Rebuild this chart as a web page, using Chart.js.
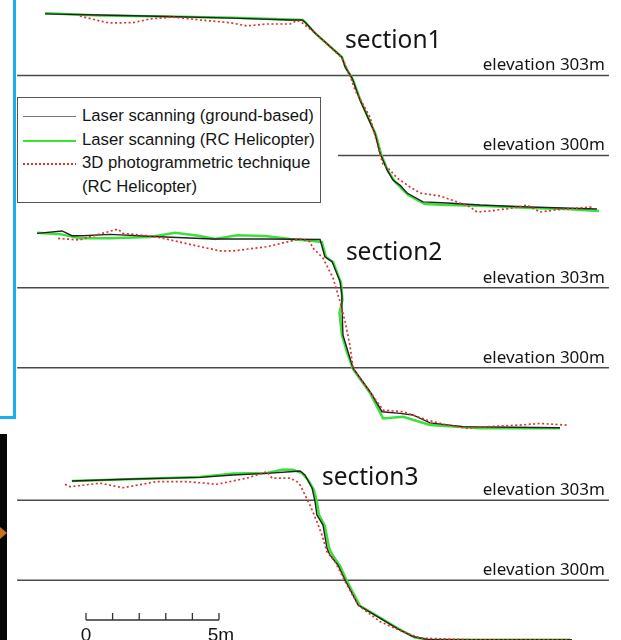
<!DOCTYPE html>
<html>
<head>
<meta charset="utf-8">
<script src="https://cdn.jsdelivr.net/npm/chart.js@4.4.1/dist/chart.umd.min.js"></script>
<style>
  html, body { margin: 0; padding: 0; background: #fff; }
  #wrap { position: relative; width: 621px; height: 640px; overflow: hidden; }
  #profiles { position: absolute; left: 0; top: 0; }
  .frame-v { position: absolute; left: 13px; top: 0; width: 3px; height: 419px; background: #1aaeef; }
  .frame-h { position: absolute; left: 0; top: 416px; width: 16px; height: 3px; background: #1aaeef; }
  .photo { position: absolute; left: 0; top: 434px; width: 7px; height: 206px; background: #060606; }
  .arrow { position: absolute; left: 0; top: 527px; width: 0; height: 0;
           border-top: 6px solid transparent; border-bottom: 6px solid transparent; border-left: 7px solid #c8701a; }
  #legend { position: absolute; left: 17px; top: 97px; width: 304px; height: 106px; box-sizing: border-box;
            border: 1px solid #555; background: #fff;
            font-family: "Liberation Sans", Arial, sans-serif; font-size: 16.7px; color: #151515; }
  #legend .row { position: absolute; left: 0; height: 20px; line-height: 20px; white-space: nowrap; }
  #legend .sample { position: absolute; left: 5px; width: 53px; top: 10px; }
  #legend .txt { position: absolute; left: 64px; top: 0; }
</style>
</head>
<body>
<div id="wrap">
  <canvas id="profiles" width="621" height="640"></canvas>
  <div class="frame-v"></div>
  <div class="frame-h"></div>
  <div class="photo"></div>
  <div class="arrow"></div>
  <div id="legend"></div>
</div>
<script>
// ---------------------------------------------------------------
// data: distance along profile (m, from scale-bar origin), elevation (m)
// ---------------------------------------------------------------
const SECTIONS = ['section1', 'section2', 'section3'];
const ELEVATIONS = [303, 300];
const ELEV_LABELS = ['elevation 303m', 'elevation 300m'];
// where each elevation line starts (m) per section: [303 line, 300 line]
const ELEV_LINE_START = [[-2.59, 9.47], [-2.59, -2.59], [-2.59, -2.59]];
const ELEV_LINE_END = 19.66;
const SCALE_TICKS = [0, 1, 2, 3, 4, 5];
const SCALE_LABELS = ['0', '', '', '', '', '5m'];

const S1_GROUND = [[-1.54,305.31],[0.53,305.27],[3.05,305.21],[5.53,305.15],[7.67,305.08],[8.12,305.08],[8.27,304.97],[8.61,304.59],[9.62,303.69],[9.74,303.32],[10.00,302.91],[10.30,302.08],[10.86,300.84],[11.05,300.09],[11.32,299.46],[11.54,299.08],[11.80,298.89],[12.07,298.59],[12.67,298.26],[13.57,298.22],[14.81,298.14],[16.69,298.07],[17.93,298.03],[19.21,297.99]];
const S1_HELI = [[-1.54,305.33],[0.53,305.25],[3.05,305.21],[5.53,305.16],[7.67,305.10],[8.16,305.08],[8.61,304.59],[9.62,303.69],[9.77,303.28],[10.04,302.83],[10.34,302.01],[10.90,300.77],[11.09,300.06],[11.35,299.42],[11.62,299.01],[12.11,298.52],[12.74,298.18],[13.57,298.14],[14.81,298.11],[16.69,298.03],[18.01,297.99],[19.29,297.92]];
const S1_PHOTO = [[-0.23,305.23],[0.53,305.04],[0.90,304.97],[1.77,304.98],[2.41,305.12],[3.27,305.19],[4.29,305.08],[5.41,304.98],[6.05,304.86],[6.80,304.93],[7.67,304.93],[7.93,305.06],[8.12,304.98],[8.61,304.59],[9.62,303.66],[9.92,303.02],[10.11,302.46],[10.68,301.44],[10.98,300.32],[11.17,299.64],[11.32,299.57],[11.69,299.16],[12.18,298.82],[12.56,298.59],[13.31,298.48],[13.95,298.26],[14.44,298.07],[14.70,297.88],[15.19,297.92],[16.05,298.03],[16.58,298.14],[17.07,297.88],[17.93,297.99],[19.06,298.07]];

const S2_GROUND = [[-1.84,305.04],[-0.90,305.13],[-0.53,304.95],[-0.11,304.95],[0.90,305.00],[2.78,304.91],[4.77,304.83],[6.80,304.83],[8.80,304.81],[8.98,304.16],[9.25,303.98],[9.55,303.23],[9.62,302.73],[9.62,302.35],[9.66,301.23],[9.85,300.60],[10.04,299.98],[10.68,299.10],[11.13,298.35],[11.80,298.29],[12.29,298.23],[12.93,297.93],[14.17,297.79],[16.05,297.77],[17.82,297.75]];
const S2_HELI = [[-1.84,305.06],[-0.98,305.01],[-0.23,304.86],[0.90,304.86],[2.41,304.90],[3.35,305.06],[4.29,304.94],[4.85,304.83],[5.68,304.97],[6.73,304.94],[7.67,304.83],[8.53,304.75],[8.87,304.71],[9.02,304.15],[9.29,303.96],[9.59,303.18],[9.64,302.54],[9.53,302.05],[9.62,301.23],[9.81,300.59],[10.04,299.95],[10.68,299.05],[11.17,298.10],[11.92,298.16],[12.93,297.85],[14.81,297.73],[17.82,297.73]];
const S2_PHOTO = [[-1.05,304.85],[-0.23,304.79],[0.15,304.91],[1.20,305.20],[1.39,305.04],[2.29,304.95],[2.78,304.88],[4.02,304.60],[5.04,304.38],[5.53,304.38],[6.80,304.54],[8.05,304.83],[8.42,304.73],[8.53,304.49],[8.91,304.11],[9.29,303.36],[9.55,302.48],[9.74,301.73],[9.92,300.85],[10.04,299.99],[10.68,299.09],[11.17,298.41],[11.92,298.35],[12.82,298.04],[13.57,297.85],[14.32,297.73],[15.08,297.79],[16.32,297.85],[17.07,297.91],[18.08,297.85]];

const S3_GROUND = [[-0.53,303.72],[1.77,303.80],[4.29,303.86],[5.53,303.95],[6.80,304.01],[7.67,304.07],[8.05,304.10],[8.23,303.95],[8.50,303.45],[8.61,302.95],[8.68,302.45],[8.91,302.07],[9.06,301.20],[9.17,300.95],[9.47,300.57],[9.74,300.01],[10.23,299.07],[11.05,298.58],[11.69,298.20],[12.29,297.89],[12.82,297.78],[18.27,297.77]];
const S3_HELI = [[-0.53,303.72],[4.29,303.87],[5.53,304.00],[6.80,304.02],[7.41,304.15],[7.78,304.14],[8.12,304.02],[8.35,303.76],[8.57,303.39],[8.68,302.94],[8.76,302.45],[8.98,302.04],[9.14,301.21],[9.29,300.91],[9.55,300.54],[9.81,299.97],[10.30,299.04],[11.13,298.55],[11.77,298.17],[12.37,297.85],[12.93,297.77],[18.20,297.77]];
const S3_PHOTO = [[-0.79,303.60],[-0.60,303.51],[0.53,303.64],[1.39,303.47],[2.67,303.70],[3.80,303.70],[4.92,303.60],[6.05,303.83],[6.80,304.07],[6.99,303.83],[7.67,303.83],[7.93,303.70],[8.05,303.57],[8.42,302.82],[8.68,302.20],[8.87,301.70],[9.06,301.07],[9.36,300.70],[9.74,299.95],[10.23,299.07],[11.05,298.45],[11.92,298.07],[12.56,297.83],[14.44,297.77],[18.20,297.77]];

// ---------------------------------------------------------------
// series styles
// ---------------------------------------------------------------
const SERIES = [
  { label: 'Laser scanning (ground-based)', data: [S1_GROUND, S2_GROUND, S3_GROUND],
    color: '#222', width: 1.4, dash: [], order: 1, legendColor: '#777' },
  { label: 'Laser scanning (RC Helicopter)', data: [S1_HELI, S2_HELI, S3_HELI],
    color: '#3be03b', width: 2.5, dash: [], order: 2, legendColor: '#3be03b' },
  { label: '3D photogrammetric technique', label2: '(RC Helicopter)', data: [S1_PHOTO, S2_PHOTO, S3_PHOTO],
    color: '#e2302c', width: 1.7, dash: [2, 2.5], order: 0, legendColor: '#e2302c' },
];

// where things sit on the page (m / elevation units)
const LAYOUT = {
  x: { min: -3.233, max: 20.113 },
  y: [ { min: 281.83, max: 305.83 }, { min: 289.79, max: 313.79 }, { min: 297.76, max: 321.76 } ],
  sectionLabelAt: [[9.74, 304.03], [9.77, 304.04], [8.87, 303.57]],
  elevLabelRight: 19.51,
  scaleBarFromBottom: 20,
};

// ---------------------------------------------------------------
// datasets
// ---------------------------------------------------------------
const datasets = [];
SECTIONS.forEach((sec, i) => {
  const axis = 'y' + (i + 1);
  SERIES.forEach(s => {
    datasets.push({
      label: s.label, yAxisID: axis,
      data: s.data[i].map(([x, y]) => ({ x, y })),
      showLine: true, pointRadius: 0, tension: 0, fill: false,
      borderColor: s.color, borderWidth: s.width, borderDash: s.dash, order: s.order,
    });
  });
  ELEVATIONS.forEach((e, k) => {
    datasets.push({
      label: ELEV_LABELS[k], yAxisID: axis,
      data: [{ x: ELEV_LINE_START[i][k], y: e }, { x: ELEV_LINE_END, y: e }],
      showLine: true, pointRadius: 0, borderColor: '#4a4a4a', borderWidth: 1.4, order: 3,
    });
  });
});

const scales = { x: { type: 'linear', display: false, min: LAYOUT.x.min, max: LAYOUT.x.max } };
LAYOUT.y.forEach((r, i) => { scales['y' + (i + 1)] = { type: 'linear', display: false, min: r.min, max: r.max }; });

// labels, elevation captions and the scale bar
const annotations = {
  id: 'annotations',
  afterDatasetsDraw(chart) {
    const { ctx } = chart;
    const x = chart.scales.x;
    ctx.save();
    ctx.fillStyle = '#151515';
    SECTIONS.forEach((sec, i) => {
      const y = chart.scales['y' + (i + 1)];
      ctx.font = '24.5px "Noto Sans", sans-serif';
      ctx.textAlign = 'left';
      ctx.textBaseline = 'alphabetic';
      const [lx, ly] = LAYOUT.sectionLabelAt[i];
      ctx.fillText(sec, x.getPixelForValue(lx), y.getPixelForValue(ly));
      ctx.font = '17px "Noto Sans", sans-serif';
      ctx.textAlign = 'right';
      ELEVATIONS.forEach((e, k) => {
        ctx.fillText(ELEV_LABELS[k], x.getPixelForValue(LAYOUT.elevLabelRight), y.getPixelForValue(e) - 5);
      });
    });
    // scale bar
    const by = chart.chartArea.bottom - LAYOUT.scaleBarFromBottom;
    ctx.strokeStyle = '#333';
    ctx.lineWidth = 1.3;
    ctx.beginPath();
    ctx.moveTo(x.getPixelForValue(SCALE_TICKS[0]), by);
    ctx.lineTo(x.getPixelForValue(SCALE_TICKS[SCALE_TICKS.length - 1]), by);
    SCALE_TICKS.forEach(t => {
      const px = x.getPixelForValue(t);
      ctx.moveTo(px, by);
      ctx.lineTo(px, by - 7);
    });
    ctx.stroke();
    ctx.font = '19px "Liberation Sans", Arial, sans-serif';
    ctx.textAlign = 'center';
    SCALE_TICKS.forEach((t, k) => {
      if (SCALE_LABELS[k]) ctx.fillText(SCALE_LABELS[k], x.getPixelForValue(t) + (k ? 2 : 0), by + 21);
    });
    ctx.restore();
  }
};

new Chart(document.getElementById('profiles'), {
  type: 'scatter',
  data: { datasets },
  options: {
    responsive: false,
    animation: false,
    layout: { padding: 0 },
    plugins: { legend: { display: false }, tooltip: { enabled: false } },
    scales,
  },
  plugins: [annotations],
});

// legend box (HTML)
const legend = document.getElementById('legend');
const rowTops = [8, 32, 55, 79];
let r = 0;
SERIES.forEach(s => {
  const row = document.createElement('div');
  row.className = 'row';
  row.style.top = rowTops[r] + 'px';
  const sample = document.createElement('div');
  sample.className = 'sample';
  if (s.dash.length) {
    sample.style.height = '1.6px';
    sample.style.background = 'repeating-linear-gradient(to right, ' + s.legendColor + ' 0 2px, transparent 2px 4px)';
  } else {
    sample.style.height = s.width > 2 ? '2px' : '1px';
    sample.style.background = s.legendColor;
  }
  const txt = document.createElement('span');
  txt.className = 'txt';
  txt.textContent = s.label;
  row.appendChild(sample);
  row.appendChild(txt);
  legend.appendChild(row);
  r++;
  if (s.label2) {
    const row2 = document.createElement('div');
    row2.className = 'row';
    row2.style.top = rowTops[r] + 'px';
    const t2 = document.createElement('span');
    t2.className = 'txt';
    t2.textContent = s.label2;
    row2.appendChild(t2);
    legend.appendChild(row2);
    r++;
  }
});
</script>
</body>
</html>
